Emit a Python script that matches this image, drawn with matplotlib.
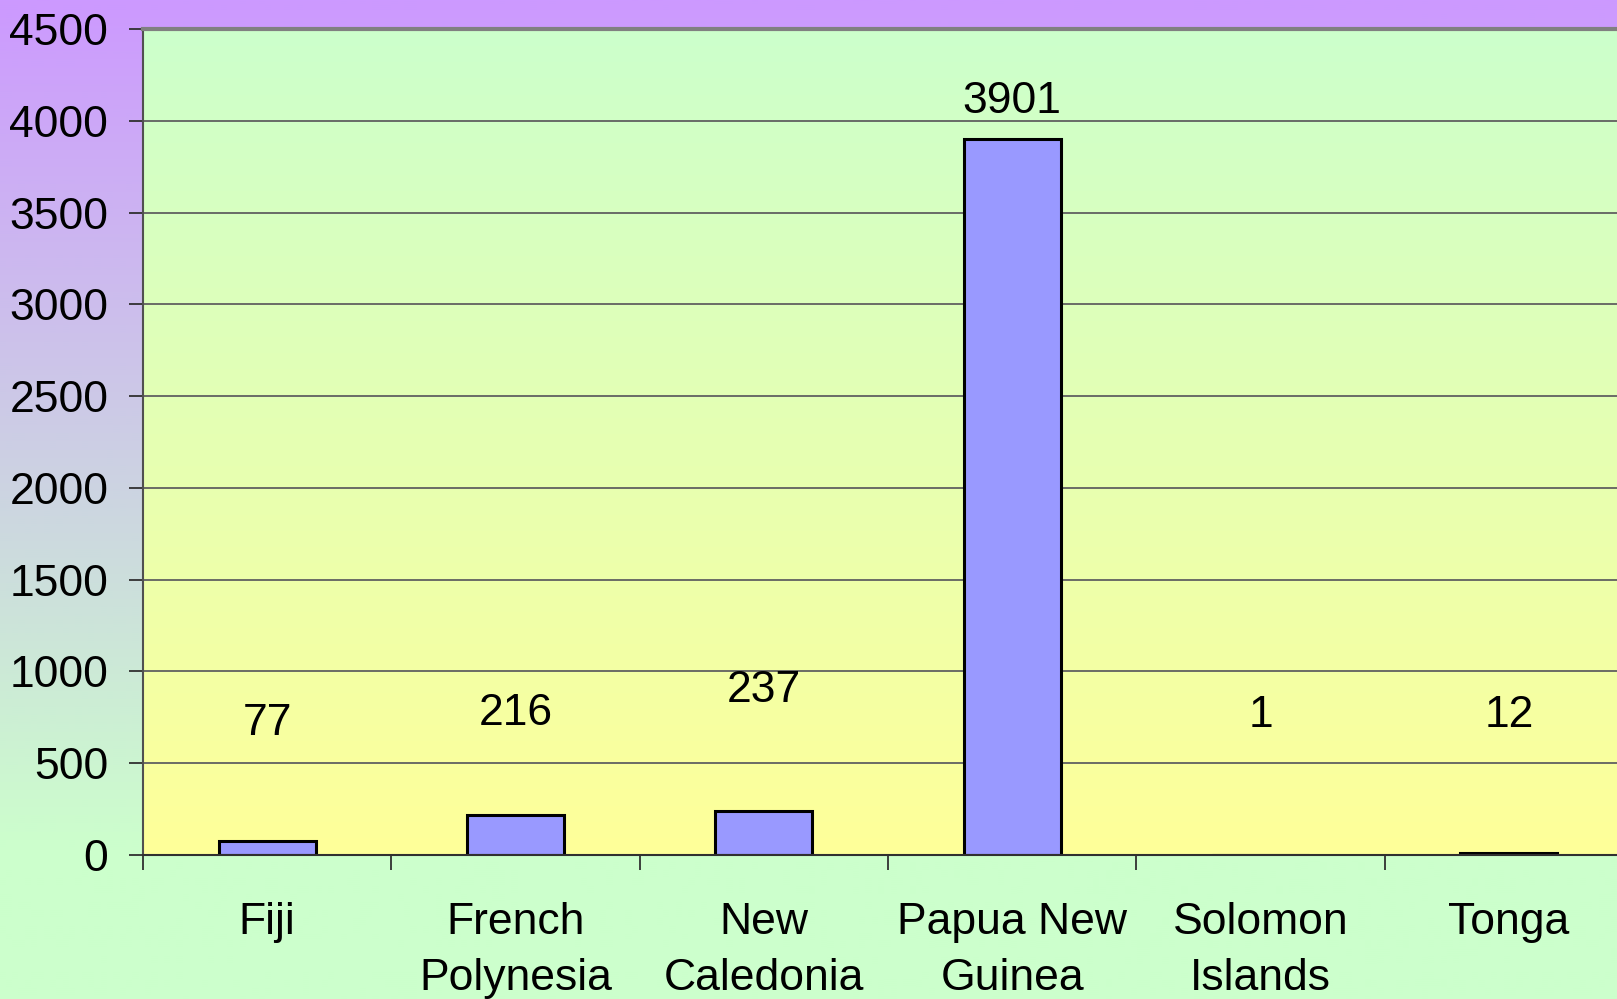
import numpy as np
import matplotlib
matplotlib.use("Agg")
import matplotlib.pyplot as plt
from matplotlib.colors import to_rgb

categories = ["Fiji", "French\nPolynesia", "New\nCaledonia", "Papua New\nGuinea", "Solomon\nIslands", "Tonga"]
values = [77, 216, 237, 3901, 1, 12]
label_y = [715, 773, 896, 4104, 761, 761]
yticks = [0, 500, 1000, 1500, 2000, 2500, 3000, 3500, 4000, 4500]

plt.rcParams['font.family'] = ['Liberation Sans', 'DejaVu Sans']
FS = 32

fig = plt.figure(figsize=(16.17, 9.99), dpi=100)

# figure background gradient: purple top -> green bottom
bg = fig.add_axes([0, 0, 1, 1], zorder=-10)
bg.set_axis_off()
n = 500
t = np.linspace(0, 1, n)  # 0 = top
t2 = np.clip(t / 0.85, 0, 1)
c0 = np.array(to_rgb("#CC99FF"))
c1 = np.array(to_rgb("#CCFFCC"))
grad = (c0[None, :] * (1 - t2[:, None]) + c1[None, :] * t2[:, None])[:, None, :]
bg.imshow(grad, aspect='auto', extent=[0, 1, 0, 1], origin='upper')
bg.set_xlim(0, 1); bg.set_ylim(0, 1)

ax = fig.add_axes([143/1617, 1-855/999, 1490/1617, (855-29)/999])
ax.set_facecolor('none')
# plot area gradient: light green top -> yellow bottom
p0 = np.array(to_rgb("#CCFFCC"))
p1 = np.array(to_rgb("#FFFF99"))
pg = (p0[None, :] * (1 - t[:, None]) + p1[None, :] * t[:, None])[:, None, :]
ax.imshow(pg, aspect='auto', extent=[0, 1, 0, 1], origin='upper',
          transform=ax.transAxes, zorder=0)

x = np.arange(len(categories))
ax.bar(x, values, width=0.39, color="#9999FF", edgecolor="black", linewidth=2.2, zorder=3)

for xi, ly, v in zip(x, label_y, values):
    ax.text(xi, ly, str(v), ha='center', va='center', fontsize=FS, zorder=4)

ax.set_xlim(-0.5, len(categories) - 0.5)
ax.set_ylim(0, 4500)
ax.set_yticks(yticks)
ax.set_yticklabels([str(v) for v in yticks], fontsize=FS)
ax.set_xticks(x)
ax.set_xticklabels(categories, fontsize=FS, linespacing=1.45)
ax.set_xticks(np.arange(-0.5, len(categories), 1.0), minor=True)

ax.yaxis.grid(True, color="#606060", linewidth=1.3, zorder=1)
ax.set_axisbelow(True)
for gl in ax.get_ygridlines():
    gl.set_zorder(1)

ax.tick_params(axis='y', length=10, width=1.3, pad=15, color="#303030")
ax.tick_params(axis='x', which='major', length=0, pad=34)
ax.tick_params(axis='x', which='minor', length=11, width=1.3, color="#303030")

ax.spines['top'].set_color("#808080")
ax.spines['top'].set_linewidth(3)
ax.spines['right'].set_visible(False)
ax.spines['left'].set_color("#505050")
ax.spines['left'].set_linewidth(1.5)
ax.spines['bottom'].set_color("#303030")
ax.spines['bottom'].set_linewidth(1.5)
ax.spines['bottom'].set_zorder(5)

fig.savefig("out.png", dpi=100)
